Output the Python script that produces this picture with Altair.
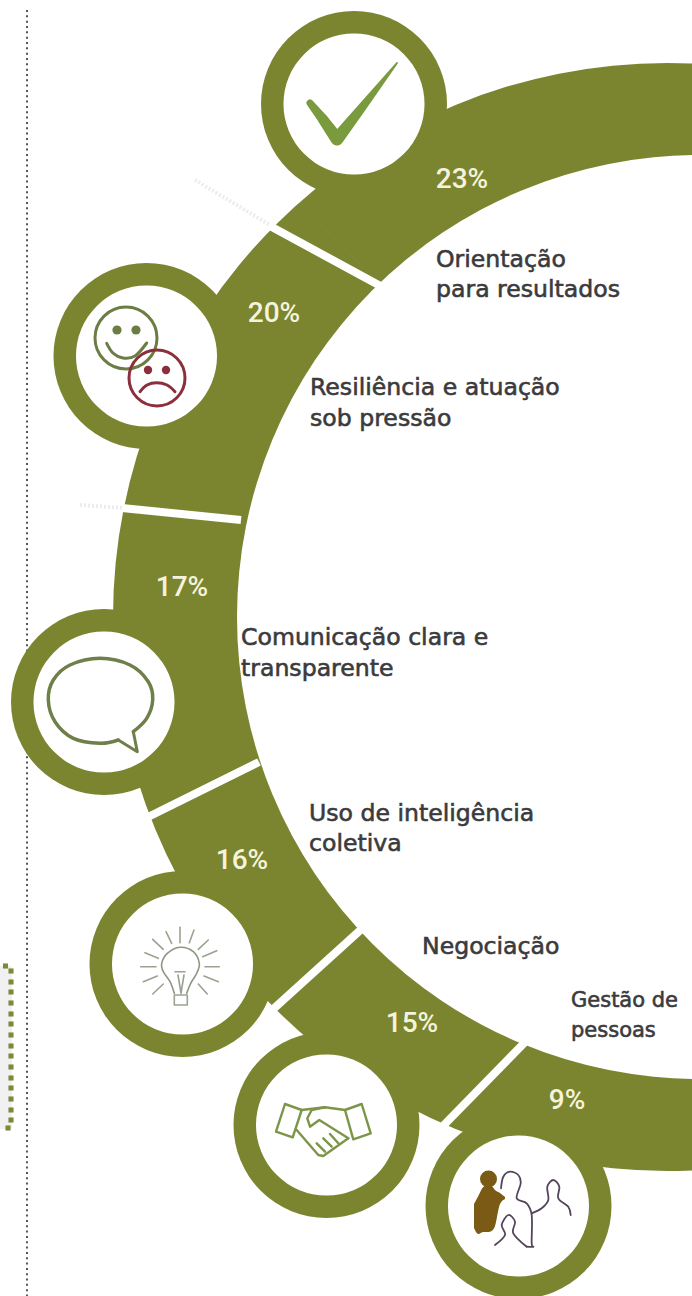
import altair as alt
import pandas as pd

# Competency shares along the ring
competencies = ["Orientação para resultados", "Resiliência e atuação sob pressão",
                "Comunicação clara e transparente", "Uso de inteligência coletiva",
                "Negociação", "Gestão de pessoas"]
shares = [23, 20, 17, 16, 15, 9]

OLIVE = "#7b8530"
PAPER = "#ffffff"
W, H = 692, 1296
CENTER_INNER = (699, 617)
CENTER_OUTER = (667, 617)

# Cumulative share to angle along the ring (radians, counter-clockwise from the top)
cum_domain = [0, 23, 43, 60, 76, 91, 100]
angle_range = [6.2832, 5.517, 4.922, 4.391, 3.974, 3.536, 3.1416]

start = [sum(shares[:i]) for i in range(len(shares))]
end = [sum(shares[:i + 1]) for i in range(len(shares))]
sectors = pd.DataFrame({"name": competencies, "start": start, "end": end,
                        "cx": CENTER_INNER[0], "cy": CENTER_INNER[1]})

# Ring dividers and faint dotted guides
dividers = [((270, 226), (386, 289)), ((122, 508), (241, 520)), ((146, 818), (259, 762)),
            ((270, 1012), (366, 925)), ((442, 1127), (532, 1035))]
guides = [((195, 180), (270, 225)), ((80, 505), (124, 508))]

disc_x = [354, 146.5, 104, 182.5, 326.5, 518.5]
disc_y = [104, 356, 702, 964, 1125, 1206]

pct_x = [462, 274, 182, 242, 412, 567]
pct_y = [180, 314, 588, 861, 1024, 1101]

label_rows = [
    ("Orientação", 436, 260, 23.6), ("para resultados", 436, 290, 23.6),
    ("Resiliência e atuação", 310, 388, 23.6), ("sob pressão", 310, 419, 23.6),
    ("Comunicação clara e", 241, 638, 23.6), ("transparente", 241, 669, 23.6),
    ("Uso de inteligência", 309, 814, 23.6), ("coletiva", 309, 844, 23.6),
    ("Negociação", 422, 947, 23.6),
    ("Gestão de", 571, 1001, 21), ("pessoas", 571, 1031, 21),
]

bracket_dots = [(5.5, 966), (11, 971), (11, 982), (11, 992), (11, 1003), (11, 1014), (11, 1024),
                (11, 1035), (11, 1046), (11, 1056), (11, 1067), (11, 1078), (11, 1088),
                (11, 1099), (11, 1110), (11, 1120), (8, 1128)]

# Icon outlines
check_path = [(310, 103, 7), (322, 118, 10), (337, 139, 13), (360, 110, 9), (397, 63, 2)]

smile = [(106.7, 343.3), (113, 353), (123, 358), (135, 356), (146.7, 343)]
frown = [(140, 391.7), (147, 385), (156.7, 382.7), (167, 385), (175, 391.7)]
bubble = [(133.3, 731.7), (146.7, 718.3), (152.7, 700), (148.3, 681.7), (130, 665), (100, 658.3),
          (70, 665), (53.3, 680), (48.3, 700), (55, 721.7), (73.3, 738.3), (100, 743.3), (118.3, 740)]
bubble_tail = [(118.3, 740), (137.3, 751.7), (133.3, 731.7)]

bulb_globe = [(174.3, 993.3), (170, 981.7), (163.3, 971.7), (161.7, 963.3), (167.3, 953.3), (180, 947.3),
              (193.3, 951.7), (199.3, 963.3), (196.7, 973.3), (190.7, 983.3), (186.7, 993.3)]
bulb_parts = [
    [(174.3, 995), (187.3, 995), (187.3, 1005), (174.3, 1005), (174.3, 995)],
    [(175, 971.7), (185, 971.7)], [(178, 975), (181, 993)], [(184, 975), (181, 993)],
    [(140.7, 966.7), (156, 966.7)], [(205, 966.7), (219.3, 966.7)], [(180, 927.3), (180, 942.7)],
    [(166, 931.7), (171.7, 943.3)], [(194, 930), (189.3, 942.7)], [(152.7, 939.3), (163.3, 949.3)],
    [(208.3, 940), (198.3, 949.3)], [(145, 952.7), (158.3, 958.3)], [(216.7, 950.7), (202.7, 956.7)],
    [(143.3, 981.7), (157.3, 976)], [(218.3, 981.7), (204, 976)], [(152.7, 994), (163.3, 984)],
    [(207.3, 994), (198.3, 984)],
]

hand_parts = [
    [(285, 1104), (301.7, 1110), (292.7, 1137.3), (276, 1131.7), (285, 1104)],
    [(361.7, 1104), (370.7, 1133.3), (353.3, 1139.3), (345, 1110), (361.7, 1104)],
    [(301.7, 1110), (325, 1107.3), (345, 1110)],
    [(325, 1107.3), (311.7, 1110), (307.3, 1118.3), (310, 1126.7), (319.3, 1120), (348.3, 1138.3)],
    [(296.7, 1130), (318.3, 1155), (323.3, 1156), (348.3, 1138.3)],
    [(323.3, 1138.3), (331.7, 1146.7)], [(330, 1134), (338.3, 1143.3)], [(316.7, 1143.3), (325, 1151.7)],
]

people_parts = [
    [(501, 1188.3), (503.3, 1176.7), (510, 1171.7), (518.3, 1175), (520.7, 1183.3), (516.7, 1198.3),
     (526.7, 1203.3), (531.7, 1215), (531.7, 1243.3), (533.3, 1246.7), (526.7, 1246.7)],
    [(495, 1245), (505, 1235), (501.7, 1225), (508.3, 1215), (515, 1221.7), (513.3, 1233.3), (526.7, 1246.7)],
    [(531.7, 1213.3), (541.7, 1208.3), (548.3, 1200), (547.3, 1186.7), (553.3, 1180), (559.3, 1186.7),
     (558.3, 1198.3), (568.3, 1206.7), (570.7, 1215)],
]
brown_body = [(474, 1204, 1228), (478.3, 1196, 1234), (483.3, 1187, 1232), (488.3, 1185, 1232),
              (491.7, 1186, 1231), (495, 1190, 1226), (500, 1193, 1204), (505, 1197, 1199)]

X = alt.Scale(domain=[0, W], range=[0, W])
Y = alt.Scale(domain=[0, H], range=[0, H])
xq = lambda f="x": alt.X(f"{f}:Q", scale=X, axis=None)
yq = lambda f="y": alt.Y(f"{f}:Q", scale=Y, axis=None)


def full_disc(x, y, outer, color, inner=0):
    data = pd.DataFrame({"x": x, "y": y})
    return alt.Chart(data).mark_arc(theta=0, theta2=6.2832, radius=outer, innerRadius=inner,
                                    color=color, clip=True).encode(x=xq(), y=yq())


def paths(parts, color, width, interpolate="linear"):
    rows = [{"part": i, "seq": j, "x": p[0], "y": p[1]} for i, part in enumerate(parts) for j, p in enumerate(part)]
    return alt.Chart(pd.DataFrame(rows)).mark_line(color=color, strokeWidth=width, interpolate=interpolate,
                                                   strokeCap="round", strokeJoin="round", clip=True).encode(
        x=xq(), y=yq(), detail="part:N", order="seq:Q")


def ring_dot(x, y, r, color, width=None):
    data = pd.DataFrame({"x": x, "y": y})
    if width:
        mark = alt.Chart(data).mark_point(shape="circle", size=4 * r * r, filled=False, stroke=color, strokeWidth=width, opacity=1)
    else:
        mark = alt.Chart(data).mark_point(shape="circle", size=4 * r * r, filled=True, color=color, opacity=1)
    return mark.encode(x=xq(), y=yq())


ring = alt.Chart(sectors).mark_arc(radius=700, color=OLIVE, stroke=OLIVE, strokeWidth=1, clip=True).encode(
    x=xq("cx"), y=yq("cy"),
    theta=alt.Theta("start:Q", scale=alt.Scale(domain=cum_domain, range=angle_range), stack=None),
    theta2="end:Q",
    tooltip=["name:N"],
)

outer_mask = full_disc([CENTER_OUTER[0]], [CENTER_OUTER[1]], 1200, PAPER, inner=554)
inner_disc = full_disc([CENTER_INNER[0]], [CENTER_INNER[1]], 462, PAPER)

band = alt.Chart(pd.DataFrame({"x": [0], "x2": [12], "y": [966], "y2": [1129]})).mark_rect(color="#f1f1f1").encode(
    x=xq(), x2="x2:Q", y=yq(), y2="y2:Q")
dotted = alt.Chart(pd.DataFrame({"x": [27], "y": [10], "y2": [H]})).mark_rule(
    color="#555555", strokeWidth=2, strokeDash=[2, 3.33]).encode(x=xq(), y=yq(), y2="y2:Q")
bracket = alt.Chart(pd.DataFrame(bracket_dots, columns=["x", "y"])).mark_point(
    shape="square", size=26, filled=True, color="#7b8a35", opacity=1).encode(x=xq(), y=yq())

guide_lines = paths(guides, "#ececec", 4).mark_line(color="#ececec", strokeWidth=4, strokeDash=[2, 2])
divider_lines = paths(dividers, PAPER, 8).mark_line(color=PAPER, strokeWidth=8, clip=True)

discs = full_disc(disc_x, disc_y, 93, OLIVE)
faces = full_disc(disc_x, disc_y, 70.5, PAPER)

check = alt.Chart(pd.DataFrame(check_path, columns=["x", "y", "w"]).reset_index()).mark_trail(color="#7a9a3e").encode(
    x=xq(), y=yq(), order="index:Q", size=alt.Size("w:Q", scale=None))

FACE_GREEN = "#6c7d44"
FACE_RED = "#8c2f3c"
happy = ring_dot([126], [338], 31, FACE_GREEN, width=3)
happy_eyes = ring_dot([117, 136], [330, 330], 4.6, FACE_GREEN)
happy_mouth = paths([smile], FACE_GREEN, 3, "cardinal")
sad = ring_dot([157], [378], 28, FACE_RED, width=3)
sad_eyes = ring_dot([148, 166], [370, 370], 4.2, FACE_RED)
sad_mouth = paths([frown], FACE_RED, 3, "cardinal")

bubble_line = paths([bubble], "#6f7f4a", 3.5, "cardinal")
tail_line = paths([bubble_tail], "#6f7f4a", 3)

globe_line = paths([bulb_globe], "#8f9783", 1.6, "cardinal")
bulb_lines = paths(bulb_parts, "#9aa290", 1.6)

hands = paths(hand_parts, "#7d9548", 2.4)

brown_area = alt.Chart(pd.DataFrame(brown_body, columns=["x", "y", "y2"])).mark_area(
    color="#7a5a14", interpolate="monotone").encode(x=xq(), y=yq(), y2="y2:Q")
brown_head = ring_dot([488.5], [1179], 8.5, "#7a5a14")
people = paths(people_parts, "#54465a", 1.8, "cardinal")

pct = alt.Chart(pd.DataFrame({"x": pct_x, "y": pct_y, "t": [f"{s}%" for s in shares]})).mark_text(
    font="Roboto", fontWeight=500, fontSize=28, color="#f6f3dc", align="center", baseline="middle").encode(
    x=xq(), y=yq(), text="t:N")

labels = alt.Chart(pd.DataFrame(label_rows, columns=["t", "x", "y", "s"])).mark_text(
    font="DejaVu Sans", stroke="#3b3b3d", strokeWidth=0.6, color="#3b3b3d", align="left", baseline="middle").encode(
    x=xq(), y=yq(), text="t:N", size=alt.Size("s:Q", scale=None))

chart = alt.layer(
    ring, outer_mask, inner_disc, band, dotted, bracket, guide_lines, divider_lines,
    discs, faces, check,
    happy, happy_eyes, happy_mouth, sad, sad_eyes, sad_mouth,
    bubble_line, tail_line, globe_line, bulb_lines, hands,
    brown_area, brown_head, people, pct, labels,
).resolve_scale(x="shared", y="shared").properties(
    width=W, height=H, padding=0, autosize=alt.AutoSizeParams(type="none"), background=PAPER,
).configure_view(stroke=None)

chart.save("out.html", embed_options={"renderer": "svg", "actions": False})
